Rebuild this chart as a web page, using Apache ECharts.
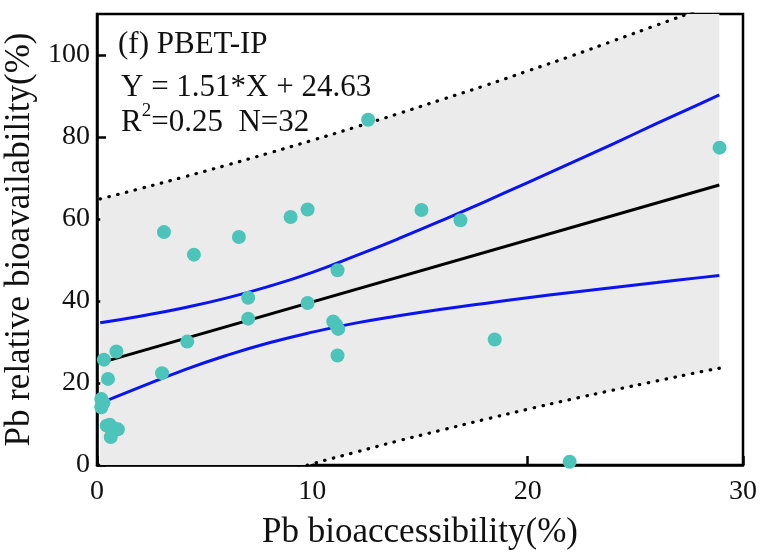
<!DOCTYPE html>
<html>
<head>
<meta charset="utf-8">
<script src="https://cdn.jsdelivr.net/npm/echarts@6/dist/echarts.min.js"></script>
<style>
html,body{margin:0;padding:0;background:#fff;}
#chart{width:762px;height:554px;}
</style>
</head>
<body>
<div id="chart"></div>
<script>
// Observed points: Pb bioaccessibility (%) vs Pb relative bioavailability (%)
const bioaccessibility = [12.59, 28.91, 3.11, 4.5, 6.59, 8.99, 9.78, 15.07, 16.88, 11.17, 7.02, 7.02, 9.78, 10.97, 11.2, 11.17, 18.47, 4.19, 3.02, 0.9, 0.32, 0.51, 0.2, 0.2, 0.59, 0.97, 0.64, 21.95, 0.8, 0.3, 11.1, 0.45];
const bioavailability = [84.2, 77.4, 56.8, 51.3, 55.6, 60.5, 62.3, 62.2, 59.7, 47.5, 40.8, 35.7, 39.5, 35.0, 33.2, 26.7, 30.6, 30.1, 22.4, 27.7, 25.7, 21.0, 16.1, 14.1, 9.8, 8.7, 6.8, 0.8, 8.9, 15.2, 34.2, 9.6];

// Fit line Y = 1.51*X + 24.63 (read at its two ends)
const fitX = [0.15, 28.9];
const fitY = [24.9, 68.3];

// Band curves at these x positions
const bandX = [0.15, 2, 4, 6, 8, 10, 12, 14, 16, 18, 20, 22, 24, 26, 28, 28.9];
const predUpper = [64.9, 67.4, 70.2, 73.1, 76.1, 79.2, 82.4, 85.7, 89.1, 92.5, 96.1, 99.7, 103.5, 107.3, 111.1, 112.9];
const predLower = [-15.1, -12.1, -8.9, -5.7, -2.7, 0.3, 3.1, 5.9, 8.5, 11.1, 13.6, 16.0, 18.3, 20.5, 22.7, 23.6];
const confUpper = [34.7, 36.3, 38.3, 40.7, 43.6, 47.0, 51.0, 55.2, 59.6, 64.2, 68.9, 73.6, 78.4, 83.3, 88.1, 90.3];
const confLower = [15.1, 19.0, 23.1, 26.7, 29.8, 32.4, 34.6, 36.4, 38.0, 39.4, 40.8, 42.1, 43.3, 44.5, 45.7, 46.2];

const xTicks = [0, 10, 20, 30];
const yTicks = [0, 20, 40, 60, 80, 100];

const pairs = (xs, ys) => xs.map((x, i) => [x, ys[i]]);
const FONT = '"Liberation Serif","Times New Roman",serif';

const chart = echarts.init(document.getElementById('chart'), null, {renderer: 'canvas'});
chart.setOption({
  animation: false,
  backgroundColor: '#fff',
  grid: {left: 97, top: 14, right: 19, bottom: 89, containLabel: false, outerBoundsMode: 'none',
    show: true, borderColor: '#000', borderWidth: 2.5, backgroundColor: 'transparent'},
  xAxis: {
    type: 'value', min: xTicks[0], max: xTicks[xTicks.length - 1], interval: 10,
    name: 'Pb bioaccessibility(%)', nameLocation: 'middle', nameGap: 50,
    nameTextStyle: {fontFamily: FONT, fontSize: 35, color: '#111'},
    axisLine: {lineStyle: {color: '#000', width: 2.5}},
    axisTick: {inside: true, length: 9, lineStyle: {color: '#000', width: 2.5}},
    axisLabel: {fontFamily: FONT, fontSize: 28, color: '#111', margin: 13},
    splitLine: {show: false}
  },
  yAxis: {
    type: 'value', min: yTicks[0], max: 110, interval: 20,
    name: 'Pb relative bioavailability(%)', nameLocation: 'middle', nameGap: 59,
    nameTextStyle: {fontFamily: FONT, fontSize: 35, color: '#111'},
    axisLine: {lineStyle: {color: '#000', width: 2.5}},
    axisTick: {inside: true, length: 9, lineStyle: {color: '#000', width: 2.5}},
    axisLabel: {fontFamily: FONT, fontSize: 28, color: '#111', margin: 7, showMaxLabel: false,
      formatter: v => (yTicks.indexOf(v) >= 0 ? String(v) : '')},
    splitLine: {show: false}
  },
  graphic: [
    {type: 'text', left: 118, top: 29, z: 100, style: {text: '(f) PBET-IP', font: '31px ' + FONT, fill: '#111'}},
    {type: 'text', left: 121, top: 72, z: 100, style: {text: 'Y = 1.51*X + 24.63', font: '31px ' + FONT, fill: '#111'}},
    {type: 'text', left: 121, top: 102, z: 100, style: {
      text: '{n|R}{s|2}{n|=0.25  N=32}',
      rich: {
        n: {fontFamily: FONT, fontSize: 31, fill: '#111', color: '#111', verticalAlign: 'bottom', lineHeight: 36},
        s: {fontFamily: FONT, fontSize: 19, fill: '#111', color: '#111', verticalAlign: 'top', lineHeight: 36, padding: [0, 0, 14, 0]}
      }
    }}
  ],
  series: [
    {type: 'custom', name: 'predictionBand', silent: true, clip: true, z: 1,
      data: [0],
      renderItem: function (params, api) {
        const top = bandX.map((x, i) => api.coord([x, predUpper[i]]));
        const bottom = bandX.map((x, i) => api.coord([x, predLower[i]])).reverse();
        return {type: 'polygon', shape: {points: top.concat(bottom), smooth: 0}, style: {fill: '#ebebeb', stroke: null}};
      }
    },
    {type: 'line', data: pairs(bandX, predUpper), symbol: 'none', smooth: true, z: 3,
      lineStyle: {color: '#000', width: 3.2, type: [0.5, 8.5], cap: 'round'}},
    {type: 'line', data: pairs(bandX, predLower), symbol: 'none', smooth: true, z: 3,
      lineStyle: {color: '#000', width: 3.2, type: [0.5, 8.5], cap: 'round'}},
    {type: 'line', data: pairs(bandX, confUpper), symbol: 'none', smooth: true, z: 4,
      lineStyle: {color: '#0a14f0', width: 3}},
    {type: 'line', data: pairs(bandX, confLower), symbol: 'none', smooth: true, z: 4,
      lineStyle: {color: '#0a14f0', width: 3}},
    {type: 'line', data: pairs(fitX, fitY), symbol: 'none', z: 4,
      lineStyle: {color: '#000', width: 3}},
    {type: 'scatter', data: pairs(bioaccessibility, bioavailability), symbol: 'circle', symbolSize: 14, z: 6,
      itemStyle: {color: '#4cc4b9', opacity: 1}}
  ]
});
</script>
</body>
</html>
